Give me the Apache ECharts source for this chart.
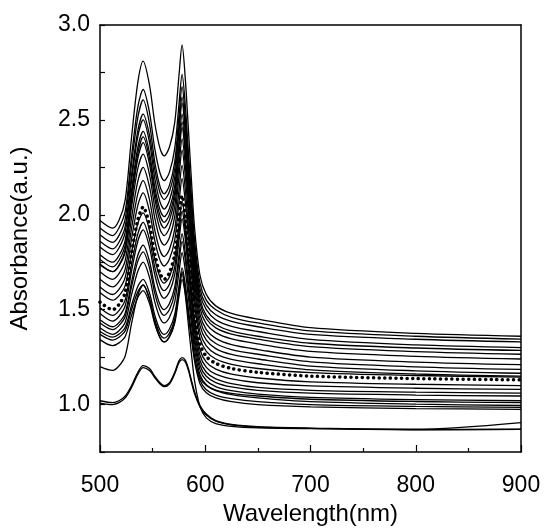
<!DOCTYPE html>
<html>
<head>
<meta charset="utf-8">
<script src="https://cdn.jsdelivr.net/npm/echarts@6/dist/echarts.min.js"></script>
<style>html,body{margin:0;padding:0;background:#fff;}#c{width:544px;height:532px;}</style>
</head>
<body>
<div id="c"></div>
<script>
// wavelengths (nm) at which each spectrum is sampled
const wavelengths = [500,512,518,524,530,536,541,547,552,557,561,566,571,575,578,581,584,587,590,595,601,610,625,650,700,800,900];
// absorbance spectra (a.u.)
const s01 = [1.97,1.93,1.97,2.08,2.41,2.70,2.81,2.685,2.485,2.35,2.31,2.357,2.486,2.731,2.895,2.72,2.45,2.17,1.92,1.68,1.58,1.52,1.48,1.45,1.405,1.375,1.36];
const s02 = [1.93,1.89,1.93,2.02,2.31,2.57,2.66,2.54,2.35,2.22,2.18,2.225,2.35,2.58,2.74,2.58,2.33,2.085,1.856,1.64,1.55,1.50,1.46,1.43,1.388,1.36,1.345];
const s03 = [1.895,1.855,1.89,1.98,2.27,2.515,2.605,2.48,2.28,2.15,2.11,2.155,2.28,2.517,2.675,2.52,2.28,2.04,1.82,1.61,1.524,1.473,1.438,1.41,1.37,1.344,1.33];
const s04 = [1.86,1.82,1.855,1.94,2.21,2.445,2.53,2.42,2.24,2.116,2.08,2.123,2.24,2.47,2.62,2.47,2.24,2.00,1.79,1.583,1.50,1.447,1.412,1.385,1.343,1.314,1.30];
const s05 = [1.83,1.79,1.825,1.91,2.18,2.415,2.50,2.383,2.195,2.068,2.03,2.075,2.198,2.433,2.59,2.44,2.21,1.975,1.76,1.557,1.47,1.422,1.387,1.36,1.323,1.298,1.285];
const s06 = [1.79,1.75,1.785,1.867,2.13,2.357,2.44,2.328,2.148,2.026,1.99,2.033,2.152,2.379,2.53,2.388,2.163,1.938,1.73,1.535,1.452,1.404,1.371,1.345,1.305,1.279,1.265];
const s07 = [1.765,1.725,1.759,1.841,2.102,2.328,2.41,2.298,2.118,1.996,1.96,2.002,2.119,2.342,2.49,2.35,2.127,1.905,1.70,1.507,1.425,1.379,1.346,1.32,1.28,1.254,1.24];
const s08 = [1.74,1.70,1.734,1.816,2.074,2.298,2.38,2.268,2.088,1.966,1.93,1.972,2.089,2.312,2.46,2.32,2.097,1.875,1.67,1.477,1.395,1.349,1.316,1.29,1.25,1.224,1.21];
const s09 = [1.735,1.70,1.731,1.805,2.041,2.246,2.32,2.213,2.04,1.924,1.89,1.931,2.043,2.257,2.40,2.264,2.048,1.833,1.634,1.447,1.367,1.322,1.29,1.265,1.225,1.199,1.185];
const s10 = [1.70,1.66,1.69,1.76,1.985,2.179,2.25,2.148,1.984,1.873,1.84,1.88,1.99,2.20,2.34,2.208,2.0,1.79,1.598,1.416,1.339,1.295,1.264,1.24,1.203,1.178,1.165];
const s11 = [1.66,1.62,1.648,1.715,1.928,2.113,2.18,2.08,1.92,1.812,1.78,1.818,1.924,2.126,2.26,2.135,1.936,1.738,1.555,1.382,1.309,1.267,1.238,1.215,1.183,1.161,1.15];
const s12 = [1.62,1.58,1.607,1.671,1.874,2.051,2.115,2.019,1.865,1.761,1.73,1.767,1.868,2.061,2.19,2.07,1.88,1.69,1.515,1.35,1.28,1.24,1.212,1.19,1.168,1.153,1.145];
const s14 = [1.59,1.55,1.573,1.628,1.803,1.955,2.01,1.918,1.77,1.67,1.64,1.674,1.769,1.95,2.07,1.958,1.782,1.605,1.442,1.289,1.224,1.187,1.16,1.14,1.12,1.107,1.10];
const s15 = [1.51,1.47,1.495,1.553,1.74,1.901,1.96,1.87,1.726,1.629,1.60,1.634,1.726,1.902,2.02,1.911,1.739,1.568,1.409,1.26,1.196,1.16,1.135,1.115,1.098,1.086,1.08];
const s16 = [1.48,1.44,1.464,1.522,1.704,1.862,1.92,1.83,1.686,1.589,1.56,1.594,1.686,1.862,1.98,1.873,1.704,1.535,1.379,1.232,1.17,1.135,1.11,1.09,1.075,1.065,1.06];
const s17 = [1.447,1.41,1.432,1.483,1.647,1.788,1.84,1.755,1.619,1.527,1.50,1.532,1.62,1.788,1.90,1.801,1.644,1.488,1.343,1.207,1.149,1.116,1.093,1.075,1.06,1.05,1.045];
const s18 = [1.43,1.395,1.416,1.465,1.621,1.756,1.805,1.721,1.587,1.497,1.47,1.501,1.587,1.751,1.86,1.763,1.61,1.458,1.317,1.184,1.127,1.095,1.073,1.055,1.038,1.026,1.02];
const s19 = [1.405,1.37,1.389,1.435,1.579,1.704,1.75,1.67,1.542,1.456,1.43,1.46,1.541,1.696,1.80,1.708,1.563,1.418,1.284,1.157,1.104,1.073,1.052,1.035,1.015,1.002,0.995];
const s20 = [1.385,1.355,1.37,1.407,1.523,1.623,1.66,1.588,1.472,1.393,1.37,1.398,1.475,1.622,1.72,1.635,1.501,1.368,1.244,1.128,1.078,1.05,1.031,1.015,1.0,0.99,0.985];
const s21 = [1.37,1.34,1.355,1.389,1.50,1.595,1.63,1.56,1.448,1.372,1.35,1.377,1.452,1.595,1.69,1.607,1.476,1.345,1.224,1.11,1.062,1.035,1.015,1.0,0.988,0.979,0.975];
const s22 = [1.342,1.31,1.325,1.359,1.47,1.565,1.60,1.533,1.425,1.352,1.33,1.356,1.429,1.568,1.66,1.586,1.469,1.353,1.245,1.143,1.10,1.076,1.059,1.045,1.028,1.016,1.01];
const s23 = [1.20,1.18,1.203,1.257,1.428,1.576,1.63,1.555,1.435,1.354,1.33,1.36,1.441,1.596,1.70,1.58,1.42,1.26,1.12,0.99,0.93,0.90,0.885,0.877,0.873,0.87,0.905];
const s24 = [1.02,1.01,1.02,1.045,1.10,1.17,1.205,1.19,1.15,1.115,1.10,1.115,1.17,1.23,1.247,1.235,1.19,1.125,1.065,0.995,0.95,0.915,0.895,0.883,0.876,0.868,0.87];
const s25 = [1.008,1.0,1.01,1.035,1.09,1.16,1.195,1.18,1.142,1.108,1.094,1.108,1.162,1.22,1.237,1.225,1.18,1.115,1.055,0.988,0.945,0.912,0.893,0.881,0.874,0.867,0.869];
// the dotted spectrum
const sDotted = [1.54,1.50,1.527,1.592,1.797,1.975,2.04,1.945,1.793,1.69,1.66,1.695,1.792,1.977,2.10,1.988,1.812,1.635,1.472,1.319,1.254,1.217,1.19,1.17,1.15,1.137,1.13];

const solidSpectra = [s01,s02,s03,s04,s05,s06,s07,s08,s09,s10,s11,s12,s14,s15,s16,s17,s18,s19,s20,s21,s22,s23,s24,s25];
const xTicks = [500,600,700,800,900];
const yTickLabels = ['1.0','1.5','2.0','2.5','3.0'];

function pairs(arr){ return wavelengths.map((w,i)=>[w,arr[i]]); }

const FONT = 'Liberation Sans, Arial, sans-serif';
const series = solidSpectra.map(s => ({
  type:'line', data:pairs(s), showSymbol:false, smooth:0.3,
  lineStyle:{color:'#000', width:1.3}, silent:true, animation:false
}));
series.push({
  type:'line', data:pairs(sDotted), showSymbol:false, smooth:0.3,
  lineStyle:{color:'#000', width:3.5, type:[0.1,5.5], cap:'round'}, silent:true, animation:false
});

const chart = echarts.init(document.getElementById('c'), null, {renderer:'canvas'});
chart.setOption({
  backgroundColor:'#fff',
  animation:false,
  grid:{left:98, right:23, top:25, bottom:80, containLabel:false},
  xAxis:[{
    type:'value', min:500, max:900, interval:100,
    name:'Wavelength(nm)', nameLocation:'middle', nameGap:47,
    nameTextStyle:{fontSize:24, color:'#000', fontFamily:FONT},
    axisLine:{lineStyle:{color:'#000', width:1.5}},
    axisTick:{inside:true, length:7, lineStyle:{color:'#000', width:1.2}},
    minorTick:{show:true, splitNumber:2, length:4, lineStyle:{color:'#000', width:1.2}},
    axisLabel:{fontSize:23, color:'#000', margin:22, fontFamily:FONT,
      formatter:v => xTicks.includes(v) ? String(v) : ''},
    splitLine:{show:false}
  },{
    type:'value', min:500, max:900, position:'top',
    axisLine:{show:true, lineStyle:{color:'#000', width:1.5}},
    axisTick:{show:false}, axisLabel:{show:false}, splitLine:{show:false}
  }],
  yAxis:[{
    type:'value', min:0.75, max:3.0, interval:0.25,
    name:'Absorbance(a.u.)', nameLocation:'middle', nameGap:68,
    nameTextStyle:{fontSize:24, color:'#000', fontFamily:FONT},
    axisLine:{show:true, lineStyle:{color:'#000', width:1.5}},
    axisTick:{inside:true, length:5, lineStyle:{color:'#000', width:1.2}},
    axisLabel:{fontSize:23, color:'#000', margin:10, fontFamily:FONT,
      formatter:v => { const t = v.toFixed(1); return (Math.abs(v*2 - Math.round(v*2))<1e-6 && yTickLabels.includes(t)) ? t : ''; }},
    splitLine:{show:false}
  },{
    type:'value', min:0.75, max:3.0, position:'right',
    axisLine:{show:true, lineStyle:{color:'#000', width:1.5}},
    axisTick:{show:false}, axisLabel:{show:false}, splitLine:{show:false}
  }],
  series: series
});
</script>
</body>
</html>
